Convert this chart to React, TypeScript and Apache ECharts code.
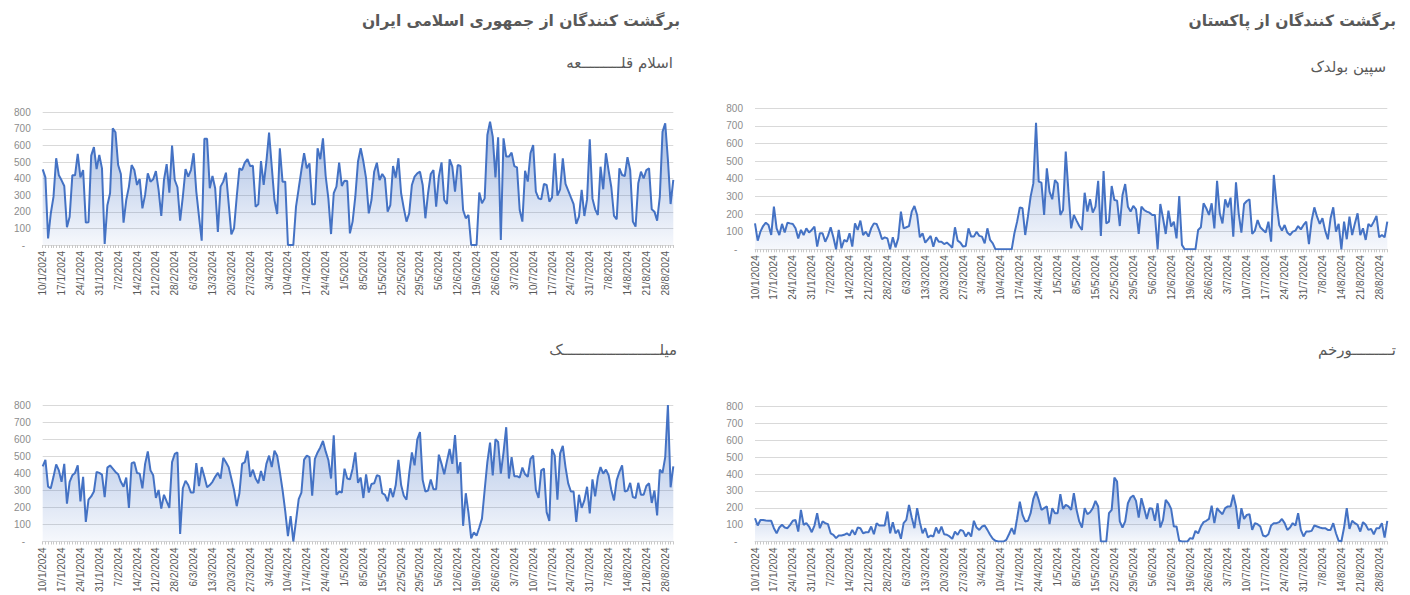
import React, { useEffect, useRef } from "react";
import * as echarts from "echarts";

// Daily categories 10/1/2024 .. 31/8/2024
const dates: string[] = [];
for (let i = 0; i < 235; i++) {
  const d = new Date(2024, 0, 10 + i);
  dates.push(`${d.getDate()}/${d.getMonth() + 1}/${d.getFullYear()}`);
}

const islamQala = [
  456, 408, 40, 190, 290, 523, 420, 390, 356, 107,
  170, 420, 420, 550, 408, 452, 135, 137, 539, 590,
  458, 543, 462, 6, 240, 312, 704, 680, 482, 428,
  135, 271, 352, 482, 452, 362, 398, 221, 302, 432,
  382, 396, 446, 332, 175, 392, 488, 316, 599, 392,
  348, 147, 291, 458, 412, 452, 553, 322, 171, 26,
  640, 640, 342, 416, 342, 78, 352, 382, 436, 251,
  64, 100, 291, 462, 452, 497, 517, 476, 478, 231,
  245, 506, 362, 502, 677, 472, 271, 187, 583, 382,
  382, 0, 0, 0, 231, 342, 452, 553, 462, 492,
  245, 245, 583, 517, 643, 416, 281, 66, 312, 352,
  497, 356, 388, 386, 70, 141, 291, 503, 583, 503,
  402, 191, 271, 442, 496, 392, 428, 402, 201, 241,
  476, 406, 523, 312, 221, 141, 191, 362, 412, 432,
  442, 362, 161, 312, 428, 452, 231, 412, 498, 271,
  247, 517, 472, 322, 482, 476, 211, 161, 181, 0,
  0, 0, 316, 251, 281, 663, 744, 653, 408, 649,
  30, 643, 533, 533, 557, 476, 468, 211, 141, 448,
  382, 553, 603, 322, 281, 275, 368, 362, 261, 287,
  553, 297, 336, 523, 368, 328, 287, 247, 127, 171,
  332, 175, 275, 637, 281, 215, 181, 472, 336, 553,
  448, 348, 175, 155, 462, 422, 416, 529, 452, 141,
  111, 372, 442, 402, 452, 462, 215, 201, 147, 291,
  683, 734, 513, 247, 392,
];

const milak = [
  440, 478, 321, 312, 379, 452, 417, 350, 455, 222,
  350, 388, 402, 446, 235, 379, 115, 245, 264, 293,
  408, 402, 392, 260, 433, 446, 427, 408, 394, 350,
  321, 375, 197, 459, 465, 402, 398, 312, 455, 528,
  417, 388, 255, 302, 193, 274, 235, 197, 465, 513,
  522, 44, 312, 356, 331, 287, 287, 459, 325, 436,
  379, 318, 331, 350, 379, 402, 369, 490, 465, 436,
  369, 302, 207, 283, 455, 465, 532, 379, 421, 369,
  341, 413, 356, 455, 503, 436, 532, 503, 408, 302,
  178, 31, 149, 0, 121, 249, 287, 480, 503, 494,
  268, 484, 522, 551, 589, 528, 478, 369, 622, 274,
  293, 287, 427, 369, 364, 427, 522, 344, 375, 255,
  394, 287, 337, 341, 388, 383, 283, 274, 235, 312,
  260, 331, 478, 331, 268, 245, 398, 522, 446, 599,
  641, 360, 293, 299, 364, 306, 306, 509, 455, 394,
  471, 542, 455, 624, 398, 465, 92, 283, 168, 19,
  54, 34, 82, 134, 302, 465, 580, 388, 599, 584,
  398, 522, 670, 369, 494, 383, 383, 375, 433, 394,
  379, 484, 503, 302, 255, 417, 427, 172, 121, 542,
  503, 245, 517, 561, 436, 341, 293, 293, 115, 274,
  197, 241, 321, 165, 364, 264, 379, 436, 398, 421,
  388, 302, 241, 360, 408, 446, 293, 299, 344, 260,
  255, 344, 274, 274, 325, 341, 226, 299, 153, 421,
  402, 494, 800, 318, 440,
];

const spinBoldak = [
  147, 49, 100, 132, 151, 138, 81, 242, 119, 81,
  144, 95, 151, 147, 144, 119, 62, 110, 81, 119,
  95, 110, 129, 15, 91, 91, 43, 76, 125, 68,
  0, 110, 6, 53, 43, 91, 15, 147, 110, 163,
  81, 100, 72, 119, 147, 144, 106, 57, 68, 62,
  0, 68, 11, 62, 214, 119, 125, 132, 214, 246,
  195, 68, 91, 38, 57, 76, 15, 68, 43, 43,
  30, 38, 25, 9, 125, 49, 38, 15, 19, 119,
  72, 72, 100, 76, 72, 34, 119, 53, 34, 0,
  0, 0, 0, 0, 0, 0, 91, 157, 238, 233,
  81, 185, 299, 374, 718, 384, 378, 195, 459, 327,
  284, 393, 374, 195, 223, 554, 327, 119, 195, 163,
  132, 110, 321, 214, 284, 208, 242, 389, 76, 444,
  147, 157, 359, 280, 276, 132, 308, 370, 242, 214,
  246, 227, 87, 242, 223, 214, 208, 195, 195, 0,
  257, 176, 87, 219, 129, 157, 62, 302, 25, 0,
  0, 0, 0, 0, 110, 125, 261, 233, 195, 261,
  119, 389, 204, 147, 284, 238, 293, 72, 380, 204,
  95, 257, 274, 284, 87, 106, 166, 125, 110, 95,
  157, 43, 422, 261, 138, 106, 138, 95, 81, 100,
  106, 132, 113, 138, 157, 30, 163, 238, 185, 144,
  176, 106, 57, 176, 238, 100, 144, 0, 157, 57,
  185, 81, 147, 204, 81, 119, 53, 144, 129, 157,
  189, 68, 81, 68, 157,
];

const torkham = [
  138, 95, 128, 128, 125, 123, 123, 79, 49, 83,
  99, 83, 79, 99, 123, 128, 59, 188, 99, 109,
  89, 55, 95, 168, 79, 119, 109, 103, 49, 40,
  20, 36, 36, 40, 49, 36, 69, 40, 83, 79,
  49, 55, 55, 89, 43, 109, 95, 95, 95, 178,
  49, 115, 49, 69, 16, 109, 128, 217, 142, 79,
  198, 115, 49, 79, 24, 36, 30, 83, 49, 89,
  43, 40, 30, 16, 59, 40, 69, 63, 30, 55,
  30, 123, 83, 69, 89, 95, 69, 40, 16, 4,
  0, 0, 0, 10, 43, 79, 43, 138, 237, 158,
  119, 123, 168, 253, 296, 247, 188, 198, 208, 103,
  198, 168, 168, 281, 194, 217, 208, 188, 287, 188,
  119, 83, 198, 162, 174, 198, 241, 208, 0, 0,
  0, 168, 188, 379, 356, 119, 83, 119, 227, 261,
  273, 241, 142, 257, 198, 134, 198, 194, 123, 227,
  83, 128, 247, 227, 194, 89, 89, 4, 0, 0,
  0, 20, 16, 63, 49, 89, 115, 123, 134, 213,
  109, 198, 178, 162, 198, 208, 208, 277, 208, 75,
  198, 134, 158, 162, 69, 109, 103, 89, 36, 30,
  43, 95, 109, 109, 115, 134, 109, 69, 83, 109,
  95, 168, 69, 30, 59, 59, 63, 95, 89, 83,
  79, 79, 69, 69, 109, 49, 4, 0, 83, 198,
  75, 123, 109, 99, 59, 115, 99, 69, 75, 43,
  79, 79, 109, 24, 123,
];

const groupTitles = ["برگشت کنندگان از جمهوری اسلامی ایران", "برگشت کنندگان از پاکستان"];
const panelTitles = ["اسلام قلـــــــــعه", "میلــــــــــــــــــــــک", "سپین بولدک", "تـــــــــورخم"];

const panels = [
  { data: islamQala, grid: { left: 42.7, right: 736.7, top: 112.3, bottom: 350 } },
  { data: milak, grid: { left: 42.7, right: 736.7, top: 405, bottom: 50.7 } },
  { data: spinBoldak, grid: { left: 755, right: 22.7, top: 108.3, bottom: 345.7 } },
  { data: torkham, grid: { left: 755, right: 22.7, top: 406.7, bottom: 53.3 } },
];

const FONT = "'DejaVu Sans', sans-serif";
const LATIN = "'Liberation Sans', Arial, sans-serif";

function txt(text: string, x: number, y: number, size: number, bold: boolean) {
  return {
    type: "text",
    x,
    y,
    style: {
      text,
      align: "right",
      verticalAlign: "middle",
      fontSize: size,
      fontWeight: bold ? "bold" : "normal",
      fontFamily: FONT,
      fill: "#595959",
    },
  };
}

export default function App() {
  const ref = useRef<HTMLDivElement>(null);
  useEffect(() => {
    if (!ref.current) return;
    const chart = echarts.init(ref.current, undefined, { renderer: "svg" });
    const option: any = {
      animation: false,
      backgroundColor: "#ffffff",
      grid: panels.map((p) => ({ ...p.grid })),
      xAxis: panels.map((_, i) => ({
        type: "category",
        gridIndex: i,
        data: dates,
        boundaryGap: false,
        axisLine: { show: true, lineStyle: { color: "#d9d9d9", width: 1 } },
        axisTick: { show: true, interval: 0, length: 3, lineStyle: { color: "#c8c8c8" } },
        axisLabel: {
          interval: 6,
          rotate: 90,
          margin: 6,
          color: "#595959",
          fontSize: 10,
          fontFamily: LATIN,
        },
        splitLine: { show: false },
      })),
      yAxis: panels.map((_, i) => ({
        type: "value",
        gridIndex: i,
        min: 0,
        max: 800,
        interval: 100,
        axisLine: { show: false },
        axisTick: { show: false },
        axisLabel: {
          margin: 12,
          color: "#8c8c8c",
          fontSize: 10,
          fontFamily: LATIN,
          formatter: (v: number) => (v === 0 ? "-\u00a0\u00a0" : String(v)),
        },
        splitLine: { show: true, lineStyle: { color: "#d9d9d9", width: 1 } },
      })),
      series: panels.map((p, i) => ({
        type: "line",
        xAxisIndex: i,
        yAxisIndex: i,
        data: p.data,
        symbol: "none",
        lineStyle: { color: "#4472C4", width: 2 },
        areaStyle: {
          color: new echarts.graphic.LinearGradient(0, 0, 0, 1, [
            { offset: 0, color: "rgba(68,114,196,0.7)" },
            { offset: 1, color: "rgba(68,114,196,0.07)" },
          ]),
        },
      })),
      graphic: [
        txt(groupTitles[0], 680, 21, 15.5, true),
        txt(groupTitles[1], 1396, 21, 15.5, true),
        txt(panelTitles[0], 673, 63, 15, false),
        txt(panelTitles[1], 677, 350, 15, false),
        txt(panelTitles[2], 1386, 67, 15, false),
        txt(panelTitles[3], 1396, 350, 15, false),
      ],
    };
    chart.setOption(option);
    return () => chart.dispose();
  }, []);
  return (
    <div
      ref={ref}
      style={{ position: "fixed", left: 0, top: 0, width: 1410, height: 595, background: "#fff" }}
    />
  );
}
